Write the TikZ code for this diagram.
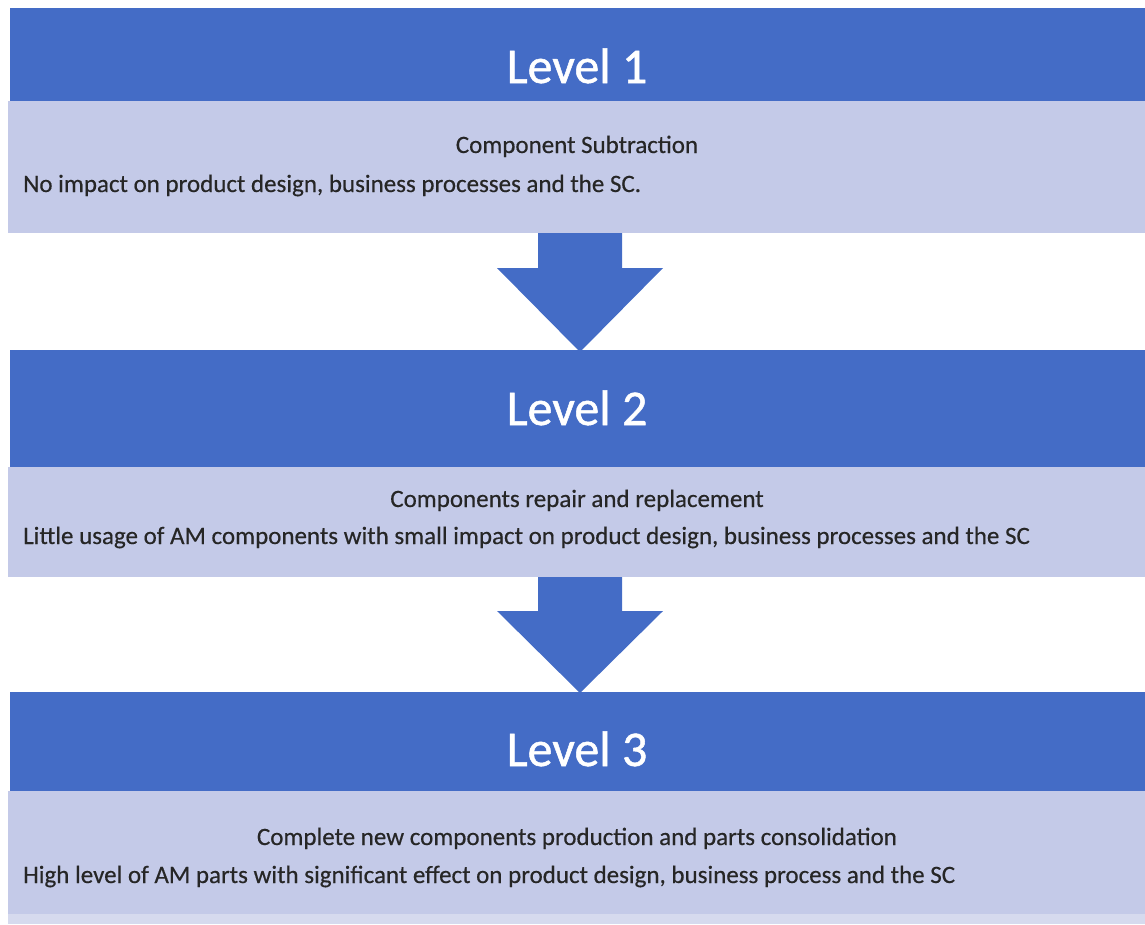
\documentclass[tikz,border=0pt]{standalone}
\usepackage{fontspec}
\setmainfont{Carlito}
\newfontfamily\levelfont[FakeBold=1]{Carlito}
\newfontfamily\bodyfont[FakeBold=0.4]{Carlito}
\definecolor{barblue}{RGB}{68,108,198}
\definecolor{boxlight}{RGB}{196,202,232}
\definecolor{boxfade}{RGB}{214,218,238}
\definecolor{txtdark}{RGB}{38,38,38}
\tikzset{
    levelbar/.style={fill=barblue, minimum width=1135pt, inner sep=0pt},
    levelbody/.style={fill=boxlight, minimum width=1137pt, inner sep=0pt},
    leveltitle/.style={text=white, font=\levelfont\fontsize{50}{60}\selectfont, anchor=base, inner sep=0pt},
    bodytext/.style={text=txtdark, font=\bodyfont\fontsize{25}{30}\selectfont, inner sep=0pt},
    downarrow/.style={fill=barblue}
}
\begin{document}
\begin{tikzpicture}[x=1pt, y=-1pt]
            \useasboundingbox (0,0) rectangle (1145,924);
            % Level 1
            \node[levelbar, minimum height=93pt] (bar1) at (577.5,54.5) {};
            \node[levelbody, minimum height=132pt] (body1) at (576.5,167) {};
            \node[leveltitle] (title1) at (577,83) {Level 1};
            \node[bodytext, anchor=base] (head1) at (577,153) {Component Subtraction};
            \node[bodytext, anchor=base west] (desc1) at (23,192) {No impact on product design, business processes and the SC.};
            % Level 2
            \node[levelbar, minimum height=117pt] (bar2) at (577.5,408.5) {};
            \node[levelbody, minimum height=110pt] (body2) at (576.5,522) {};
            \node[leveltitle] (title2) at (577,425) {Level 2};
            \node[bodytext, anchor=base] (head2) at (577,507) {Components repair and replacement};
            \node[bodytext, anchor=base west] (desc2) at (23,544) {Little usage of AM components with small impact on product design, business processes and the SC};
            % Level 3
            \node[levelbar, minimum height=99pt] (bar3) at (577.5,741.5) {};
            \node[levelbody, minimum height=123pt] (body3) at (576.5,852.5) {};
            \fill[boxfade] (body3.south west) rectangle ++(1137,10);
            \node[leveltitle] (title3) at (577,766) {Level 3};
            \node[bodytext, anchor=base] (head3) at (577,845) {Complete new components production and parts consolidation};
            \node[bodytext, anchor=base west] (desc3) at (23,883) {High level of AM parts with significant effect on product design, business process and the SC};
            % arrows
            \fill[downarrow] (538,233) -- (622,233) -- (622,268) -- (663,268) -- (580,352) -- (497,268) -- (538,268) -- cycle;
            \fill[downarrow] (538,577) -- (622,577) -- (622,611) -- (663,611) -- (580,693) -- (497,611) -- (538,611) -- cycle;
        \end{tikzpicture}
\end{document}
